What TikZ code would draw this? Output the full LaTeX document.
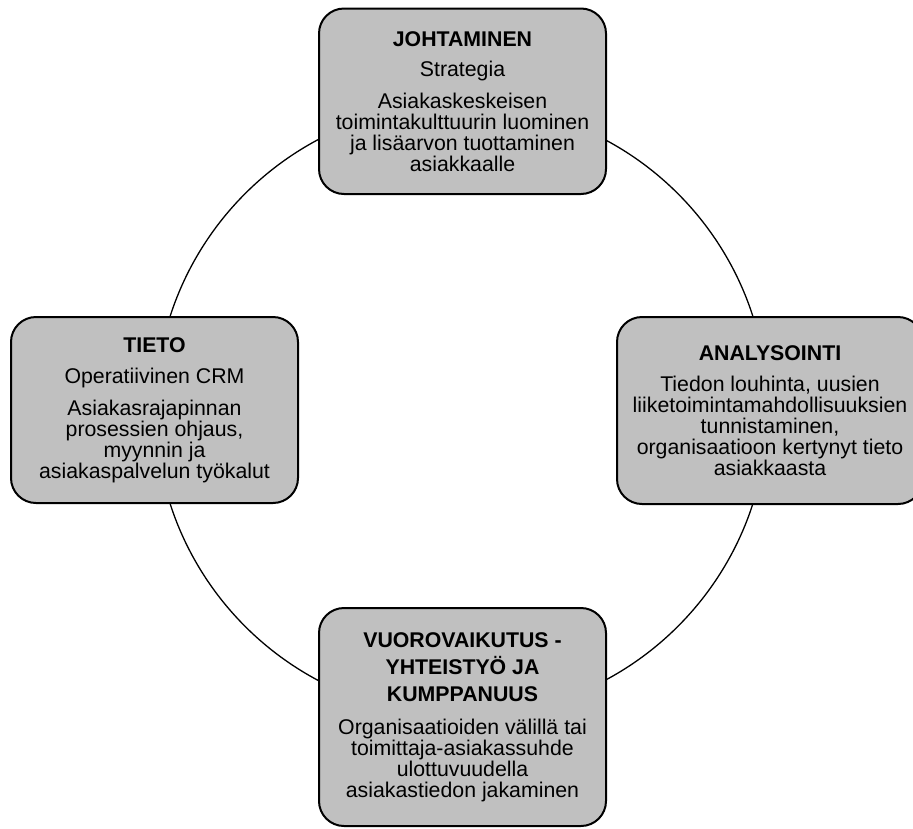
\documentclass[tikz,border=0pt]{standalone}
\usepackage{fontspec}
\setmainfont{Liberation Sans}
\definecolor{boxgray}{HTML}{C0C0C0}
\tikzset{
  stage/.style={draw=black, line width=2pt, fill=boxgray, rounded corners=25pt,
    align=center, inner sep=0pt, font=\fontsize{21.3}{21}\selectfont},
  ring/.style={draw=black, line width=1.3pt}
}
\begin{document}
\begin{tikzpicture}[x=1pt,y=-1pt]
\useasboundingbox (0,0) rectangle (913,828);
\clip (0,0) rectangle (913,828);
\coordinate (c) at (461.5,410);
\draw[ring] (c) circle (306pt);
\node[stage, minimum width=287pt, minimum height=185.5pt] (top) at (462.5,101.25)
  {\textbf{JOHTAMINEN}\\[9pt] Strategia\\[11pt] Asiakaskeskeisen\\ toimintakulttuurin luominen\\ ja lisäarvon tuottaminen\\ asiakkaalle};
\node[stage, minimum width=287pt, minimum height=186pt] (left) at (154.5,410)
  {\textbf{TIETO}\\[10pt] Operatiivinen CRM\\[11pt] Asiakasrajapinnan\\ prosessien ohjaus,\\ myynnin ja\\ asiakaspalvelun työkalut};
\node[stage, minimum width=306pt, minimum height=187pt] (right) at (770,410.5)
  {\textbf{ANALYSOINTI}\\[10pt] Tiedon louhinta, uusien\\ liiketoimintamahdollisuuksien\\ tunnistaminen,\\ organisaatioon kertynyt tieto\\ asiakkaasta};
\node[stage, minimum width=287pt, minimum height=218pt] (bottom) at (462.5,717)
  {\textbf{VUOROVAIKUTUS -}\\[6pt] \textbf{YHTEISTYÖ JA}\\[6pt] \textbf{KUMPPANUUS}\\[12pt] Organisaatioiden välillä tai\\ toimittaja-asiakassuhde\\ ulottuvuudella\\ asiakastiedon jakaminen};
\end{tikzpicture}
\end{document}
